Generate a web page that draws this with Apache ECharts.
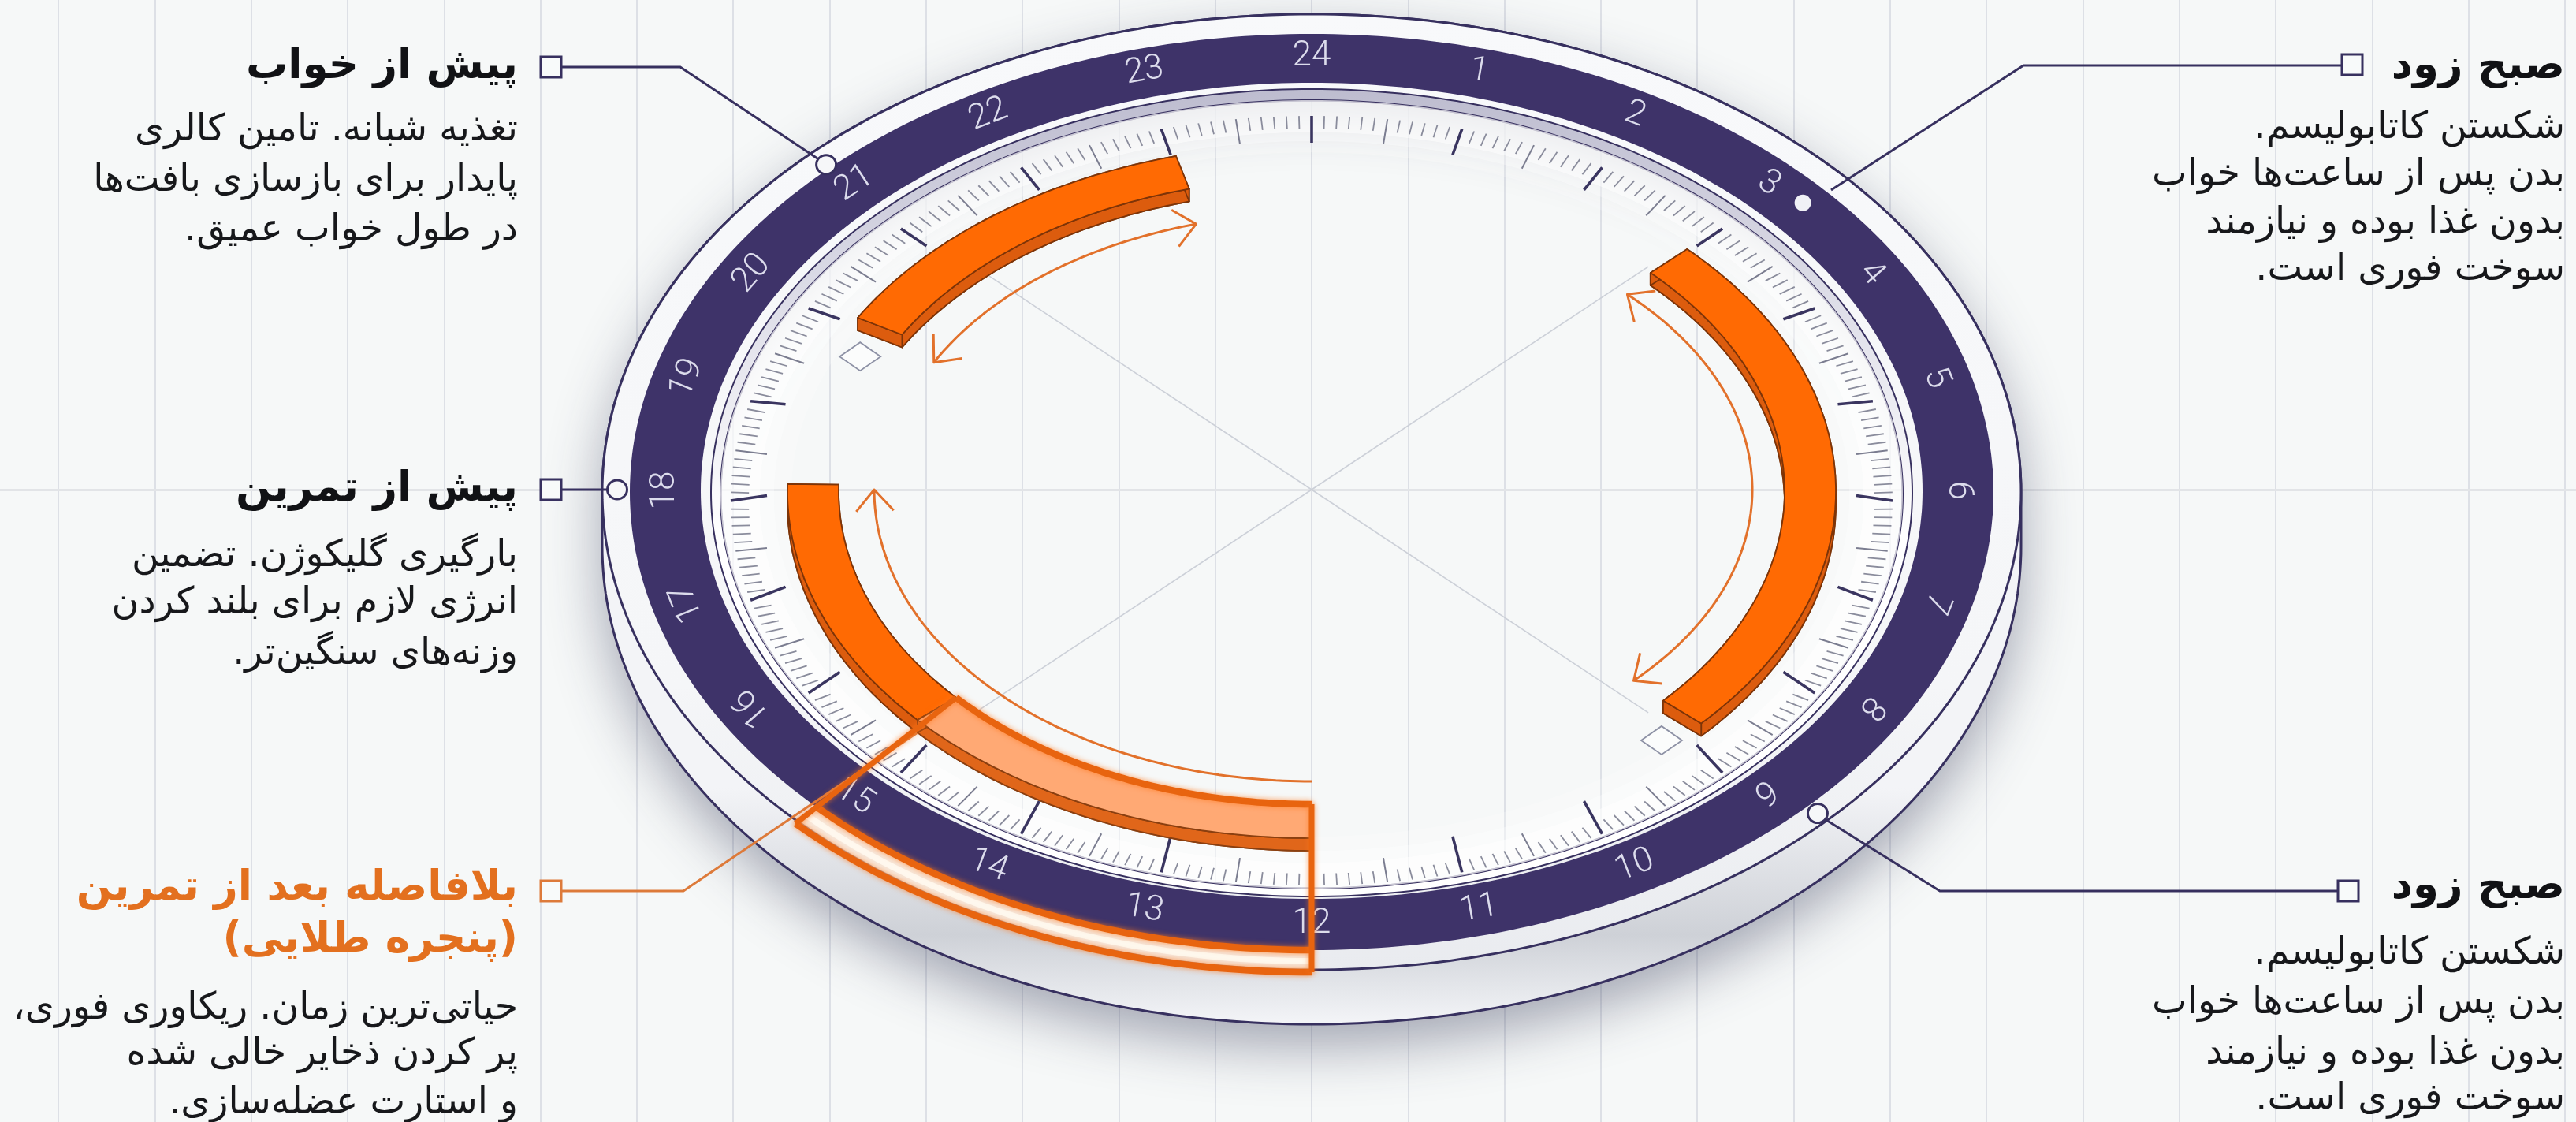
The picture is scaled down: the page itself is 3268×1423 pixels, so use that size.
<!DOCTYPE html>
<html lang="fa">
<head>
<meta charset="utf-8">
<style>html,body{margin:0;padding:0;background:#f6f8f8;overflow:hidden}#c{width:3268px;height:1423px}</style>
<script src="https://cdn.jsdelivr.net/npm/echarts@6/dist/echarts.min.js"></script>
</head>
<body>
<div id="c" dir="rtl"></div>
<script>
// ---------- data ----------
const hourLabels = [1,2,3,4,5,6,7,8,9,10,11,12,13,14,15,16,17,18,19,20,21,22,23,24];
const ticksPerHour = 12;
const solidWindows = [[3.05, 8.8], [20, 23], [15.25, 18.08]];
const goldenWindow = [12, 15.25];
const arrowSpans = [[3.05, 8.87], [19.83, 22.95], [12, 18]];
const arrowHeads = [[1, 1], [1, 1], [0, 1]];
const guideHours = [3, 9, 15, 21];
const diamondHours = [19.6, 9.15];
const titles = [
  ['صبح زود'],
  ['پیش از خواب'],
  ['پیش از تمرین'],
  ['بلافاصله بعد از تمرین', '(پنجره طلایی)'],
  ['صبح زود']
];
const bodies = [
  ['شکستن کاتابولیسم.', 'بدن پس از ساعت\u200cها خواب', 'بدون غذا بوده و نیازمند', 'سوخت فوری است.'],
  ['تغذیه شبانه. تامین کالری', 'پایدار برای بازسازی بافت\u200cها', 'در طول خواب عمیق.'],
  ['بارگیری گلیکوژن. تضمین', 'انرژی لازم برای بلند کردن', 'وزنه\u200cهای سنگین\u200cتر.'],
  ['حیاتی\u200cترین زمان. ریکاوری فوری،', 'پر کردن ذخایر خالی شده', 'و استارت عضله\u200cسازی.'],
  ['شکستن کاتابولیسم.', 'بدن پس از ساعت\u200cها خواب', 'بدون غذا بوده و نیازمند', 'سوخت فوری است.']
];

// ---------- layout & style ----------
const CX = 1664, CY = 621, W = 3268, H = 1423, GRID = 122.3;
const NAVY = '#37305f', BAND = '#3e3369', ORANGE = '#ff6a03', SIDE = '#dc5c0e', EDGE = '#7d3408', HILITE = '#e8640f', ARROW = '#e2712b';
const E = (rx, ry, dy) => ({rx, ry, dy});
const rim = E(900, 606, 3), rimLow = E(900, 606, 72);
const bandOut = E(865, 581, 3), bandIn = E(775, 517.5, 1.5);
const silverOut = E(762, 512, 4), silverIn = E(750, 500, 6);
const labelRing = E(820, 550, 1);
const tickOut = E(737, 488, 14), tickMinor = E(714, 472.5, 14.5), tickMid = E(697, 456.5, 14.5), tickMajor = E(691, 447.5, 7.5);
const barOut = E(665, 440, 2), barIn = E(600, 397, 2), DEPTH = 16;
const hiOut = E(905, 609, 3);
const arrowRings = [E(559, 355, 0), E(540, 350, 0), E(555, 370, 0)];
const guideRing = E(604, 400, 0);
const dotRing = E(885, 595, 1), topDotRing = E(825, 555, 0), nodeRing = E(871, 583, 0);
const FONT = '"DejaVu Sans"';
const textLayout = [
  {x: 3254, title: [85], body: [163, 223, 284, 343]},
  {x: 657, title: [85], body: [166, 230, 293]},
  {x: 657, title: [621], body: [706, 766, 830]},
  {x: 657, title: [1127, 1193], body: [1280, 1338, 1400]},
  {x: 3254, title: [1125], body: [1210, 1273, 1337, 1395]}
];
const leaders = [
  {pts: [[2971, 83], [2567, 83], [2323, 241]], sq: [2984, 82], color: NAVY},
  {pts: [[712, 85], [863, 85], [1040, 203]], sq: [699, 85], color: NAVY},
  {pts: [[712, 621], [771, 621]], sq: [699, 621], color: NAVY},
  {pts: [[712, 1130], [867, 1130], [1170, 925]], sq: [699, 1130], color: '#dd7a3a'},
  {pts: [[2966, 1130], [2461, 1130], [2312, 1037]], sq: [2979, 1130], color: NAVY}
];
const nodes = [{h: 21, e: nodeRing}, {h: 18, e: E(881, 590, 0)}, {h: 8.9, e: dotRing}];
const dotNode = {h: 3.27, e: topDotRing};

// ---------- helpers ----------
const hourTheta = h => h * Math.PI / 12;
function pt(api, e, h, extraDown) {
  const t = hourTheta(h);
  return api.coord([e.rx * Math.sin(t), -(e.dy + (extraDown || 0)) + e.ry * Math.cos(t)]);
}
const px = (api, x, y) => api.coord([x - CX, CY - y]);
function arc(api, e, h0, h1, extra) {
  const n = Math.max(4, Math.ceil(Math.abs(h1 - h0) * 16)), out = [];
  for (let i = 0; i <= n; i++) out.push(pt(api, e, h0 + (h1 - h0) * i / n, extra));
  return out;
}
const toD = (pts, close) => 'M' + pts.map(p => p[0].toFixed(1) + ' ' + p[1].toFixed(1)).join('L') + (close ? 'Z' : '');
const ring = (api, o, i) => toD(arc(api, o, 0, 24), true) + toD(arc(api, i, 24, 0), true);
const sector = (api, a, b, h0, h1, ea, eb) => toD(arc(api, a, h0, h1, ea).concat(arc(api, b, h1, h0, eb)), true);
const path = (d, style, z2) => ({type: 'path', shape: {pathData: d}, style, z2: z2 || 0});
const vgrad = (y0, y1, stops) => new echarts.graphic.LinearGradient(0, y0, 0, y1,
  stops.map(s => ({offset: s[0], color: s[1]})), true);
function hull(api) {
  return toD(arc(api, rim, 18, 30).concat(arc(api, rimLow, 6, 18)), true);
}

function renderBody(params, api) {
  const hole = toD(arc(api, silverIn, 24, 0), true);
  const wide = toD(arc(api, E(800, 530, 19), 24, 0), true);
  const kids = [];
  kids.push(path(hull(api) + wide, {fill: '#e4e6ea', shadowBlur: 70, shadowOffsetY: 28, shadowColor: 'rgba(45,50,80,0.42)'}));
  kids.push(path(hull(api) + hole, {
    fill: vgrad(1000, 1300, [[0, '#f3f4f7'], [0.62, '#ced1d7'], [0.86, '#e6e8ec'], [1, '#f4f5f8']]),
    stroke: NAVY, lineWidth: 3
  }));
  kids.push(path(ring(api, rim, silverIn), {
    fill: vgrad(0, 1240, [[0, '#f8f9fb'], [0.7, '#f5f6f8'], [1, '#e9ebef']]), stroke: NAVY, lineWidth: 3
  }));
  kids.push(path(ring(api, bandOut, bandIn), {fill: BAND}));
  kids.push(path(ring(api, silverOut, silverIn), {
    fill: vgrad(110, 1140, [[0, '#bdbccf'], [0.25, '#dcdce7'], [0.55, '#ffffff'], [1, '#ffffff']]),
    stroke: NAVY, lineWidth: 2
  }));
  // ruler plate fading into the open centre
  kids.push(path(ring(api, silverIn, E(700, 463, 10)), {fill: 'rgba(255,255,255,0.72)'}));
  kids.push(path(ring(api, E(700, 463, 10), E(682, 450, 8)), {fill: 'rgba(255,255,255,0.45)'}));
  kids.push(path(ring(api, E(682, 450, 8), E(660, 434, 6)), {fill: 'rgba(255,255,255,0.22)'}));
  return {type: 'group', children: kids};
}
function renderGuide(params, api) {
  const a = px(api, CX, CY), b = pt(api, guideRing, api.value(0));
  return {type: 'line', shape: {x1: a[0], y1: a[1], x2: b[0], y2: b[1]}, style: {stroke: '#ccd0d8', lineWidth: 1.6}};
}
function renderTick(params, api) {
  const i = api.value(0), h = i / ticksPerHour;
  const major = i % ticksPerHour === 0, mid = i % (ticksPerHour / 2) === 0;
  const inner = major ? tickMajor : mid ? tickMid : tickMinor;
  const a = pt(api, tickOut, h), b = pt(api, inner, h);
  return {type: 'line', shape: {x1: a[0], y1: a[1], x2: b[0], y2: b[1]}, style: {
    stroke: major ? '#3a3560' : mid ? '#7b7d90' : '#8a8c9c',
    lineWidth: major ? 3.6 : mid ? 2 : 1.8
  }};
}
function renderLabel(params, api) {
  const h = api.value(0), t = hourTheta(h), p = pt(api, labelRing, h);
  let deg = Math.atan2(0.665 * Math.sin(t), Math.cos(t));
  const flip = h >= 9 && h <= 15;
  if (flip) deg -= Math.PI;
  if (h === 24) deg = 0;
  return {type: 'text', x: p[0], y: p[1], rotation: -deg, style: {
    text: String(hourLabels[params.dataIndex]), x: 0, y: 0, align: 'center', verticalAlign: 'middle',
    font: '300 44px Roboto', fill: '#dcdcec'
  }};
}
function head(api, from, tip) {
  const dx = tip[0] - from[0], dy = tip[1] - from[1], L = Math.hypot(dx, dy) || 1, ux = dx / L, uy = dy / L, arm = 36, c = Math.cos(0.72), s = Math.sin(0.72);
  const a = [tip[0] - arm * (ux * c - uy * s), tip[1] - arm * (uy * c + ux * s)];
  const b = [tip[0] - arm * (ux * c + uy * s), tip[1] - arm * (uy * c - ux * s)];
  return toD([a, tip, b]);
}
function renderArrow(params, api) {
  const k = params.dataIndex, e = arrowRings[k], h0 = api.value(0), h1 = api.value(1), pts = arc(api, e, h0, h1);
  let d = toD(pts);
  const flags = arrowHeads[k];
  if (flags[0]) d += head(api, pts[3], pts[0]);
  if (flags[1]) d += head(api, pts[pts.length - 4], pts[pts.length - 1]);
  return {type: 'path', shape: {pathData: d}, style: {fill: 'none', stroke: ARROW, lineWidth: 3, lineJoin: 'round'}};
}
function barGroup(api, h0, h1, face, side, edge, fw) {
  const kids = [];
  const s = {fill: side, stroke: edge, lineWidth: fw, lineJoin: 'round'};
  kids.push(path(sector(api, barOut, barIn, h0, h1, DEPTH, DEPTH), s));
  kids.push(path(sector(api, barOut, barOut, h0, h1, 0, DEPTH), s));
  kids.push(path(sector(api, barIn, barIn, h0, h1, 0, DEPTH), s));
  [h0, h1].forEach(h => kids.push(path(toD([pt(api, barOut, h), pt(api, barIn, h), pt(api, barIn, h, DEPTH), pt(api, barOut, h, DEPTH)], true), s)));
  kids.push(path(sector(api, barOut, barIn, h0, h1), {fill: face, stroke: edge, lineWidth: fw, lineJoin: 'round'}));
  return kids;
}
function renderBar(params, api) {
  return {type: 'group', children: barGroup(api, api.value(0), api.value(1), ORANGE, SIDE, EDGE, 1.8)};
}
function renderGolden(params, api) {
  const h0 = api.value(0), h1 = api.value(1), hEnd = h1 - 0.16, kids = barGroup(api, h0, h1, '#ffa974', '#e0661a', '#8a3f10', 1.8);
  const glow = {shadowBlur: 7, shadowColor: 'rgba(255,120,30,0.75)'};
  const hiIn = E(600, 397, 2);
  kids.push(path(sector(api, hiOut, bandOut, h0, hEnd), {fill: 'rgba(255,224,196,0.55)'}));
  const mid = E(884, 595, 3);
  kids.push(path(toD(arc(api, mid, h0, hEnd)), {fill: 'none', stroke: 'rgba(255,250,240,0.9)', lineWidth: 8}));
  const ln = {fill: 'none', stroke: HILITE, lineWidth: 8.5, lineJoin: 'round', ...glow};
  kids.push(path(toD(arc(api, hiIn, h0, h1)), ln));
  kids.push(path(toD(arc(api, hiOut, h0, hEnd)), ln));
  kids.push(path(toD(arc(api, bandOut, h0, hEnd)), ln));
  kids.push(path(toD([pt(api, hiIn, h1), pt(api, hiOut, hEnd)]), {...ln, lineWidth: 7}));
  kids.push(path(toD([pt(api, hiIn, h0), pt(api, hiOut, h0)]), {...ln, lineWidth: 7}));
  return {type: 'group', children: kids};
}
function renderDiamond(params, api) {
  const k = 0.662, h = api.value(0), t = hourTheta(h), r = h > 12 ? 627 : 654;
  const c = api.coord([r * Math.sin(t), r * k * Math.cos(t)]);
  return {type: 'polygon', shape: {points: [[c[0] - 26, c[1]], [c[0], c[1] - 18], [c[0] + 26, c[1]], [c[0], c[1] + 18]]},
    style: {fill: '#fbfcfc', stroke: '#8d91a5', lineWidth: 1.8}};
}
function renderLeader(params, api) {
  const l = leaders[params.dataIndex], kids = [];
  const pts = l.pts.map(p => px(api, p[0], p[1]));
  kids.push(path(toD(pts), {fill: 'none', stroke: l.color, lineWidth: 3}));
  const c = px(api, l.sq[0], l.sq[1]);
  kids.push({type: 'rect', shape: {x: c[0] - 13, y: c[1] - 13, width: 26, height: 26}, style: {fill: '#f8fafa', stroke: l.color, lineWidth: 3}});
  return {type: 'group', children: kids};
}
function renderNode(params, api) {
  const kids = nodes.map(n => {
    const c = pt(api, n.e, n.h);
    return {type: 'ellipse', shape: {cx: c[0], cy: c[1], rx: 12.5, ry: 12}, style: {fill: '#f6f7f9', stroke: NAVY, lineWidth: 3}};
  });
  const d = pt(api, dotNode.e, dotNode.h);
  kids.push({type: 'ellipse', shape: {cx: d[0], cy: d[1], rx: 10.5, ry: 10.5}, style: {fill: '#f0f1f6'}});
  return {type: 'group', children: kids};
}
function renderText(params, api) {
  const i = params.dataIndex, l = textLayout[i], kids = [], gold = i === 3;
  titles[i].forEach((t, j) => {
    const p = px(api, l.x, l.title[j]);
    kids.push({type: 'text', style: {text: t, x: p[0], y: p[1], align: 'right', verticalAlign: 'middle',
      font: 'bold 53px ' + FONT, fill: gold ? '#e3701f' : '#111215'}});
  });
  bodies[i].forEach((t, j) => {
    const p = px(api, l.x, l.body[j]);
    kids.push({type: 'text', style: {text: t, x: p[0], y: p[1], align: 'right', verticalAlign: 'middle',
      font: '47.5px ' + FONT, fill: '#17181b'}});
  });
  return {type: 'group', children: kids};
}

const tickData = [];
for (let i = 0; i < 24 * ticksPerHour; i++) tickData.push([i, 0]);
const toRows = a => a.map(v => Array.isArray(v) ? v : [v, 0]);
const layer = (name, z, data, renderItem) => ({
  type: 'custom', name, z, data, renderItem, clip: false, silent: true, animation: false,
  coordinateSystem: 'cartesian2d', encode: {x: 0, y: 1}
});

const chart = echarts.init(document.getElementById('c'), null, {renderer: 'canvas', width: W, height: H});
chart.setOption({
  backgroundColor: '#f6f8f8',
  animation: false,
  tooltip: {show: false},
  grid: {left: CX - 14 * GRID, top: 0, width: 28 * GRID, height: H, containLabel: false, outerBoundsMode: 'none'},
  xAxis: {
    type: 'value', min: -14 * GRID, max: 14 * GRID, interval: GRID,
    axisLabel: {show: false}, axisTick: {show: false},
    axisLine: {show: true, onZero: true, lineStyle: {color: '#e2e4e7', width: 3}},
    splitLine: {show: true, lineStyle: {color: '#dde0e6', width: 2}}
  },
  yAxis: {
    type: 'value', min: CY - H, max: CY, show: false, splitLine: {show: false}
  },
  series: [
    layer('dial', 2, [[0, 0]], renderBody),
    layer('guides', 3, toRows(guideHours), renderGuide),
    layer('ticks', 4, tickData, renderTick),
    layer('hours', 5, hourLabels.map(h => [h, 0]), renderLabel),
    layer('diamonds', 5, toRows(diamondHours), renderDiamond),
    layer('arrows', 6, arrowSpans, renderArrow),
    layer('windows', 7, solidWindows, renderBar),
    layer('leaders', 8, leaders.map((_, i) => [i, 0]), renderLeader),
    layer('golden', 9, [goldenWindow], renderGolden),
    layer('nodes', 10, [[0, 0]], renderNode),
    layer('callouts', 11, titles.map((_, i) => [i, 0]), renderText)
  ]
});
</script>
</body>
</html>
